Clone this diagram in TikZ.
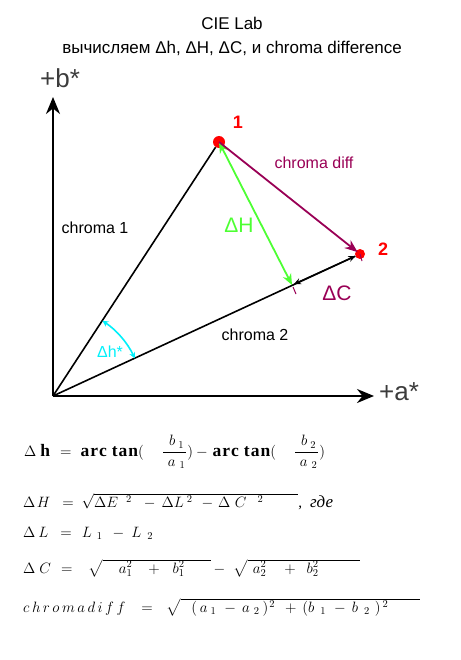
\RequirePackage{fix-cm}
\documentclass[tikz,border=0pt]{standalone}
\usepackage{amsmath}
\usepackage{fontspec}
\setmainfont{Liberation Serif}
\newfontfamily\labelfont{Liberation Sans}
\usetikzlibrary{positioning, calc, arrows.meta}

\definecolor{dhgreen}{RGB}{77,255,51}
\definecolor{diffpurple}{RGB}{153,0,85}
\definecolor{axisgrey}{RGB}{60,60,60}
\definecolor{anglecyan}{RGB}{0,240,250}

\newcommand{\bfarctan}{\text{\fontsize{17.5}{20}\selectfont\bfseries a\hspace{1pt}r\hspace{1pt}c\hspace{5pt}t\hspace{1pt}a\hspace{1pt}n}}
\newcommand{\bfh}{\text{\fontsize{17.5}{20}\selectfont\bfseries h}}

\tikzset{
  title/.style={font=\labelfont\fontsize{17}{20}\selectfont},
  axislabel/.style={font=\labelfont\fontsize{26}{30}\selectfont, text=axisgrey},
  lbl/.style={font=\labelfont\fontsize{16}{19}\selectfont},
  biglbl/.style={font=\labelfont\fontsize{21}{25}\selectfont},
  num/.style={font=\labelfont\bfseries\fontsize{18}{21}\selectfont, text=red},
  dot/.style={circle, fill=red, inner sep=0pt, minimum size=#1},
  axis/.style={line width=2.4pt, -{Stealth[length=17pt, width=14pt]}},
  chroma/.style={line width=1.6pt},
  formula/.style={anchor=base west, inner sep=0pt, font=\fontsize{15}{18}\selectfont}
}

\begin{document}
\begin{tikzpicture}[x=1pt, y=-1pt]
  \useasboundingbox (0,0) rectangle (460,660);

  \node[title] (T1) at (232,23) {CIE Lab};
  \node[title] (T2) at (232,48) {вычисляем Δh, ΔH, ΔC, и chroma difference};

  % axes
  \coordinate (O) at (53,396);
  \coordinate (B) at (53,97);
  \coordinate (A) at (374,396);
  \draw[axis] (O) -- (B);
  \draw[axis] (O) -- (A);
  \node[axislabel] at (60,78) {+b*};
  \node[axislabel] at (399,392) {+a*};

  % points
  \node[dot=12pt] (P) at (219,142) {};
  \node[dot=10pt] (Q) at (360,254) {};
  \coordinate (F) at (292,285);
  \node[num] at (238,122) {1};
  \node[num] at (383,249) {2};

  \draw[chroma] (O) -- (P);
  \draw[chroma] (O) -- (Q);
  \node[lbl] at (95,228) {chroma 1};
  \node[lbl] at (255,335) {chroma 2};

  % differences
  \draw[dhgreen, line width=1.8pt, {Stealth[length=11pt, width=9pt]}-{Stealth[length=11pt, width=9pt]}] (P.center) -- (F);
  \draw[diffpurple, line width=1.8pt, -{Stealth[length=13pt, width=10pt]}] (P.center) -- ($(Q.center)!3pt!(P.center)$);
  \draw[diffpurple, line width=1pt] (Q.center) -- ++(2,7);
  \draw[line width=1.4pt, {Stealth[length=7pt, width=6pt]}-{Stealth[length=7pt, width=6pt]}] ($(F)!2pt!(Q)$) -- ($(Q.center)!5pt!(F)$);
  \draw[diffpurple, line width=1pt] ($(F)+(1,2)$) -- ++(3,7);
  \node[lbl, text=diffpurple] at (314,163) {chroma diff};
  \node[biglbl, text=dhgreen] at (239,225) {ΔH};
  \node[biglbl, text=diffpurple] at (337,293) {ΔC};

  % angle
  \draw[anglecyan, line width=1.6pt, {Stealth[length=6pt, width=6pt]}-{Stealth[length=6pt, width=6pt]}] ($(O)+(-24.75:90)$) arc[start angle=-24.75, end angle=-56.7, radius=90];
  \node[lbl, text=anglecyan] at (110,352) {Δh*};

  % formulas
  \node[formula] (f1) at (24,456) {$\Delta\hspace{4pt}\bfh\hspace{10pt}{=}\hspace{9pt}\bfarctan(\hspace{18pt}\dfrac{\hspace{6pt}b_{\hspace{3pt}1}\hspace{2pt}}{\hspace{4pt}a_{\hspace{4pt}1}})\hspace{3pt}{-}\hspace{5pt}\bfarctan(\hspace{18pt}\dfrac{\hspace{6pt}b_{\hspace{3pt}2}\hspace{2pt}}{\hspace{4pt}a_{\hspace{4pt}2}})$};
  \node[formula] (f2) at (23,507) {$\Delta\hspace{1.5pt}H\hspace{12pt}{=}\hspace{8pt}\sqrt{\Delta E^{\hspace{8pt}2}\hspace{12pt}{-}\hspace{6pt}\Delta L^{\hspace{3pt}2}\hspace{9pt}{-}\hspace{5pt}\Delta\hspace{4.5pt}C^{\hspace{11pt}2}\hspace{35pt}}$,\hspace{8pt}{\fontsize{17}{20}\selectfont\textit{где}}};
  \node[formula] (f3) at (23,537) {$\Delta\hspace{3pt}L\hspace{12pt}{=}\hspace{10pt}L_{\hspace{5pt}1}\hspace{10pt}{-}\hspace{7pt}L_{\hspace{6pt}2}$};
  \node[formula] (f4) at (23,573) {$\Delta\hspace{4pt}C\hspace{10pt}{=}\hspace{16pt}\sqrt{\hspace{16pt}a_1^2\hspace{16pt}{+}\hspace{13pt}b_1^2\hspace{26pt}}\hspace{3pt}{-}\hspace{8pt}\sqrt{\hspace{5pt}a_2^2\hspace{18pt}{+}\hspace{11pt}b_2^2\hspace{41pt}}$};
  \node[formula] (f5) at (23,612) {$c\,h\,r\,o\,m\,a\,d\,i\,f\,f\hspace{16pt}{=}\hspace{14pt}\sqrt{\hspace{10pt}(\hspace{3pt}a_{\hspace{3pt}1}\hspace{8pt}{-}\hspace{6pt}a_{\hspace{4pt}2}\hspace{3pt})^{\hspace{1pt}2}\hspace{10pt}{+}\hspace{6pt}(b_{\hspace{6pt}1}\hspace{8pt}{-}\hspace{6pt}b_{\hspace{6pt}2}\hspace{5pt})^{\hspace{2pt}2}\hspace{32pt}}$};
\end{tikzpicture}
\end{document}
